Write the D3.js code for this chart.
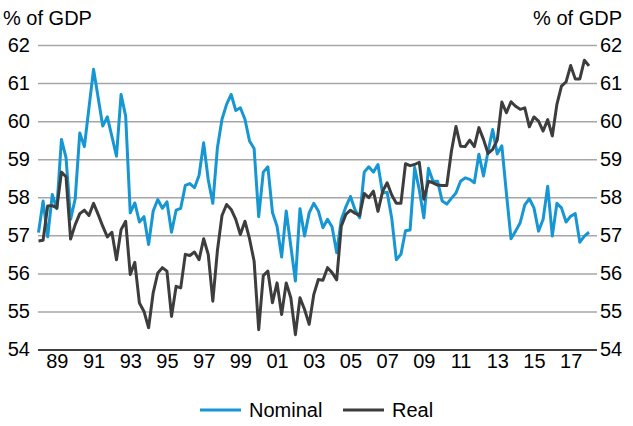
<!DOCTYPE html>
<html>
<head>
<meta charset="utf-8">
<script src="https://cdn.jsdelivr.net/npm/d3@7/dist/d3.min.js"></script>
<style>
body { margin: 0; background: #fff; }
text { font-family: "Liberation Sans", Arial, sans-serif; font-size: 20px; fill: #000; }
</style>
</head>
<body>
<div id="chart"></div>
<script>
// quarterly series, first point is 1988 Q1
var startYear = 1988

var nominal = [
	57.07, 57.90, 56.96, 58.07, 57.70, 59.52, 59.04, 57.42, 57.96, 59.69,
	59.33, 60.35, 61.36, 60.62, 59.87, 60.11, 59.60, 59.08, 60.70, 60.13,
	57.59, 57.85, 57.35, 57.49, 56.76, 57.64, 57.94, 57.71, 57.88, 57.08,
	57.66, 57.71, 58.31, 58.36, 58.25, 58.57, 59.43, 58.46, 57.84, 59.30,
	60.05, 60.44, 60.70, 60.28, 60.35, 60.05, 59.48, 59.28, 57.49, 58.66,
	58.80, 57.60, 57.24, 56.43, 57.64, 56.72, 55.80, 57.70, 56.98, 57.59,
	57.84, 57.64, 57.20, 57.42, 57.22, 56.54, 57.41, 57.75, 58.02, 57.67,
	57.46, 58.66, 58.80, 58.66, 58.86, 58.11, 58.13, 57.45, 56.36, 56.50,
	57.12, 57.14, 58.78, 58.20, 57.46, 58.76, 58.42, 58.42, 57.90, 57.82,
	57.97, 58.11, 58.42, 58.51, 58.47, 58.38, 59.13, 58.56, 59.21, 59.78,
	59.14, 59.35, 58.10, 56.91, 57.11, 57.33, 57.80, 57.96, 57.72, 57.11,
	57.42, 58.29, 56.98, 57.84, 57.72, 57.35, 57.50, 57.57, 56.82, 56.98,
	57.08
]

var real = [
	56.85, 56.87, 57.77, 57.78, 57.72, 58.66, 58.54, 56.90, 57.28, 57.57,
	57.66, 57.52, 57.84, 57.55, 57.24, 56.96, 57.08, 56.36, 57.15, 57.37,
	55.97, 56.29, 55.22, 55.00, 54.57, 55.49, 56.01, 56.15, 56.06, 54.87,
	55.66, 55.62, 56.50, 56.47, 56.56, 56.36, 56.91, 56.50, 55.27, 56.60,
	57.52, 57.81, 57.68, 57.42, 57.02, 57.37, 56.91, 56.32, 54.52, 55.94,
	56.06, 55.23, 55.75, 54.92, 55.75, 55.36, 54.39, 55.36, 55.05, 54.66,
	55.44, 55.84, 55.82, 56.15, 56.02, 55.83, 57.24, 57.55, 57.66, 57.58,
	57.52, 58.10, 57.99, 58.16, 57.63, 58.15, 58.38, 58.06, 57.84, 57.84,
	58.88, 58.83, 58.86, 58.92, 57.95, 58.42, 58.38, 58.32, 58.31, 58.31,
	59.20, 59.86, 59.34, 59.33, 59.50, 59.33, 59.83, 59.52, 59.15, 59.26,
	59.50, 60.50, 60.22, 60.51, 60.39, 60.31, 60.35, 59.85, 60.11, 60.00,
	59.74, 60.04, 59.61, 60.44, 60.92, 61.03, 61.46, 61.11, 61.11, 61.60,
	61.45
]

var yearTicks = [1989, 1991, 1993, 1995, 1997, 1999, 2001, 2003, 2005, 2007, 2009, 2011, 2013, 2015, 2017]
var yTicks = [54, 55, 56, 57, 58, 59, 60, 61, 62]
var seriesNames = ["Nominal", "Real"]
var seriesColors = ["#1696d2", "#3d3d3d"]

var w = 633, h = 426
var left = 38, right = 597

var svg = d3.select("#chart")
	.append("svg")
	.attr("width", w)
	.attr("height", h)

var x = d3.scaleLinear()
	.domain([0, nominal.length - 1])
	.range([38.5, 589])

var y = d3.scaleLinear()
	.domain([54, 62])
	.range([349.5, 45])

// gridlines + left labels
var yLeft = svg.append("g")
	.attr("transform", "translate(" + left + ",0)")
	.call(d3.axisLeft(y).tickValues(yTicks).tickSize(-(right - left)).tickPadding(8).tickFormat(d3.format("d")))
yLeft.select(".domain").remove()
yLeft.selectAll(".tick line")
	.attr("stroke", function(d) { return d == 54 ? "#000" : "#a6a6a6" })
	.attr("stroke-width", function(d) { return d == 54 ? 1.3 : 1.5 })
yLeft.selectAll("text").style("font-size", "20px").attr("fill", "#000")

// right labels
var yRight = svg.append("g")
	.attr("transform", "translate(" + right + ",0)")
	.call(d3.axisRight(y).tickValues(yTicks).tickSize(0).tickPadding(3).tickFormat(d3.format("d")))
yRight.select(".domain").remove()
yRight.selectAll("text").style("font-size", "20px").attr("fill", "#000")

// x axis labels
var xAxis = svg.append("g")
	.attr("transform", "translate(0," + y(54) + ")")
	.call(d3.axisBottom(x)
		.tickValues(yearTicks.map(function(yr) { return (yr - startYear) * 4 }))
		.tickSize(0)
		.tickPadding(4)
		.tickFormat(function(d) { return String(startYear + d / 4).slice(2) }))
xAxis.select(".domain").remove()
xAxis.selectAll("text").style("font-size", "20px").attr("fill", "#000")

// axis titles
svg.append("text").attr("x", 3).attr("y", 25).text("% of GDP")
svg.append("text").attr("x", 622).attr("y", 25).attr("text-anchor", "end").text("% of GDP")

// lines
var line = d3.line()
	.x(function(d, i) { return x(i) })
	.y(function(d) { return y(d) })

var series = [nominal, real]
series.forEach(function(s, k) {
	svg.append("path")
		.datum(s)
		.attr("d", line)
		.attr("fill", "none")
		.attr("stroke", seriesColors[k])
		.attr("stroke-width", 3)
		.attr("stroke-linejoin", "round")
})

// legend
var legendX = [200, 343]
var leg = svg.append("g")
seriesNames.forEach(function(name, k) {
	leg.append("line")
		.attr("x1", legendX[k]).attr("x2", legendX[k] + 41)
		.attr("y1", 410).attr("y2", 410)
		.attr("stroke", seriesColors[k])
		.attr("stroke-width", 3)
	leg.append("text")
		.attr("x", legendX[k] + 49)
		.attr("y", 417)
		.text(name)
})
</script>
</body>
</html>
